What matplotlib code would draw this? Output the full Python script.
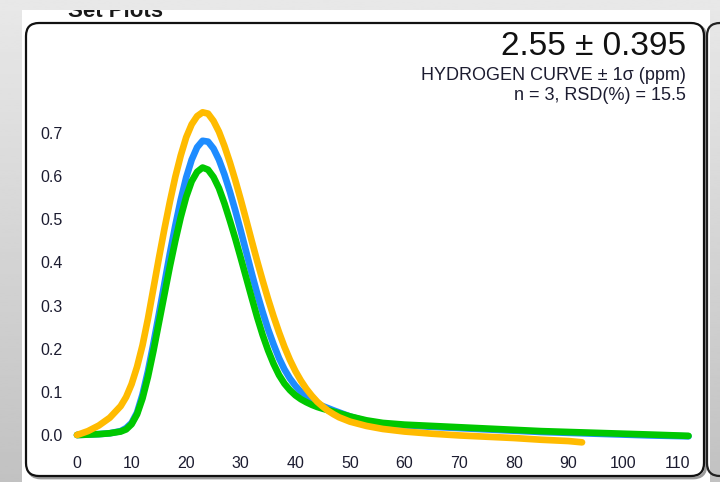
import numpy as np
import matplotlib.pyplot as plt
from matplotlib.patches import FancyBboxPatch, Rectangle

plt.rcParams['font.family'] = ['Liberation Sans', 'DejaVu Sans']

# curve data (x = time, y = signal)
x_bg = [0, 2, 4, 6, 8, 9, 10, 11, 12, 13, 14, 15, 16, 17, 18, 19, 20, 21, 22, 23, 24,
        25, 26, 27, 28, 29, 30, 31, 32, 33, 34, 35, 36, 37, 38, 39, 40, 41, 42, 43, 44,
        45, 47, 50, 53, 56, 60, 65, 70, 75, 80, 85, 90, 95, 100, 105, 112]
blue = [0.0, 0.001, 0.002, 0.004, 0.009, 0.016, 0.028, 0.052, 0.094, 0.148, 0.212, 0.28,
        0.35, 0.42, 0.485, 0.545, 0.597, 0.638, 0.667, 0.682, 0.68, 0.664, 0.638, 0.604,
        0.564, 0.52, 0.473, 0.424, 0.375, 0.328, 0.285, 0.245, 0.21, 0.178, 0.152, 0.131,
        0.114, 0.1, 0.089, 0.08, 0.073, 0.067, 0.057, 0.043, 0.032, 0.026, 0.022, 0.019,
        0.016, 0.013, 0.010, 0.007, 0.005, 0.003, 0.001, -0.001, -0.003]
green = [0.0, 0.001, 0.002, 0.004, 0.008, 0.013, 0.025, 0.048, 0.085, 0.135, 0.195, 0.26,
         0.325, 0.39, 0.45, 0.505, 0.552, 0.588, 0.61, 0.62, 0.615, 0.598, 0.572, 0.537,
         0.497, 0.455, 0.41, 0.364, 0.318, 0.273, 0.232, 0.196, 0.165, 0.139, 0.119,
         0.104, 0.092, 0.083, 0.076, 0.07, 0.065, 0.061, 0.054, 0.043, 0.034, 0.028,
         0.024, 0.021, 0.018, 0.015, 0.012, 0.009, 0.007, 0.005, 0.003, 0.001, -0.002]

x_or = [0, 2, 4, 6, 8, 9, 10, 11, 12, 13, 14, 15, 16, 17, 18, 19, 20, 21, 22, 23, 24,
        25, 26, 27, 28, 29, 30, 31, 32, 33, 34, 35, 36, 37, 38, 39, 40, 41, 42, 43, 44,
        45, 46, 47, 48, 50, 53, 56, 60, 65, 70, 75, 80, 85, 90, 92.5]
orange = [0.0, 0.009, 0.022, 0.04, 0.067, 0.088, 0.118, 0.158, 0.208, 0.27, 0.34, 0.41,
          0.477, 0.54, 0.598, 0.648, 0.69, 0.72, 0.739, 0.748, 0.745, 0.728, 0.703,
          0.67, 0.632, 0.59, 0.545, 0.498, 0.45, 0.403, 0.358, 0.315, 0.275, 0.238,
          0.204, 0.174, 0.148, 0.126, 0.107, 0.091, 0.077, 0.066, 0.056, 0.048, 0.041,
          0.031, 0.021, 0.014, 0.008, 0.003, -0.001, -0.004, -0.007, -0.011, -0.014, -0.017]

mean_txt = '2.55 \u00b1 0.395'
name_txt = 'HYDROGEN CURVE \u00b1 1\u03c3 (ppm)'
stat_txt = 'n = 3, RSD(%) = 15.5'
x_ticks = np.arange(0, 111, 10)
y_ticks = np.arange(0, 0.71, 0.1)

W, H = 720, 482
fig = plt.figure(figsize=(W / 100, H / 100), dpi=100)
tr = fig.dpi_scale_trans

# grey screenshot background
bg = fig.add_axes([0, 0, 1, 1], zorder=-10)
bg.axis('off')
grad = np.linspace(0.91, 0.76, 200)[:, None]
bg.imshow(grad, cmap='gray', vmin=0, vmax=1, aspect='auto', extent=[0, 1, 0, 1])

# white page area
page = Rectangle((22 / 100, 0), 688 / 100, (H - 10) / 100, transform=tr,
                 facecolor='white', edgecolor='none', zorder=-5)
fig.patches.append(page)

t = fig.text(68 / 100, (H - 17) / 100, 'Set Plots', transform=tr, fontsize=16,
             fontweight='bold', color='#1a1a1a', va='baseline', zorder=-4)
t.set_clip_path(page)

# panel with shadow
def panel(x0, x1, y0, y1, **kw):
    p = FancyBboxPatch((x0 / 100, (H - y1) / 100), (x1 - x0) / 100, (y1 - y0) / 100,
                       boxstyle='round,pad=0,rounding_size=0.13', transform=tr, **kw)
    fig.patches.append(p)

panel(28, 706, 25, 478, facecolor='none', edgecolor='#9a9a9a', lw=2, zorder=-3)
panel(26, 704, 23, 476, facecolor='white', edgecolor='#111111', lw=1.6, zorder=-2)
panel(707, 800, 23, 476, facecolor='none', edgecolor='#222222', lw=1.6, zorder=-2)

# plot area
L, R, T, B = 68, 700, 25, 450
ax = fig.add_axes([L / W, (H - B) / H, (R - L) / W, (B - T) / H])
ax.set_facecolor('none')
x0px, xs = 77, 5.46
y0px, ys = 435, 431.4
ax.set_xlim((L - x0px) / xs, (R - x0px) / xs)
ax.set_ylim((y0px - B) / ys, (y0px - T) / ys)

kw = dict(lw=4.8, solid_capstyle='round', solid_joinstyle='round', clip_on=False)
ax.plot(x_bg, blue, color='#1e8cff', zorder=2, **kw)
ax.plot(x_bg, green, color='#00c800', zorder=3, **kw)
ax.plot(x_or, orange, color='#ffbb00', zorder=4, **kw)

for s in ax.spines.values():
    s.set_visible(False)
ax.set_xticks(x_ticks)
ax.set_yticks(y_ticks)
ax.set_yticklabels([f'{v:.1f}' for v in y_ticks])
ax.tick_params(length=0, labelsize=11.5, labelcolor='#1c1c30')
ax.tick_params(axis='x', pad=4)
ax.tick_params(axis='y', pad=4)

fig.text(686 / 100, (H - 55) / 100, mean_txt, transform=tr, fontsize=24,
         ha='right', va='baseline', color='#111111')
fig.text(686 / 100, (H - 80) / 100, name_txt, transform=tr, fontsize=13,
         ha='right', va='baseline', color='#1c1c30')
fig.text(686 / 100, (H - 100) / 100, stat_txt, transform=tr, fontsize=13,
         ha='right', va='baseline', color='#1c1c30')

fig.savefig('out.png', dpi=100)
